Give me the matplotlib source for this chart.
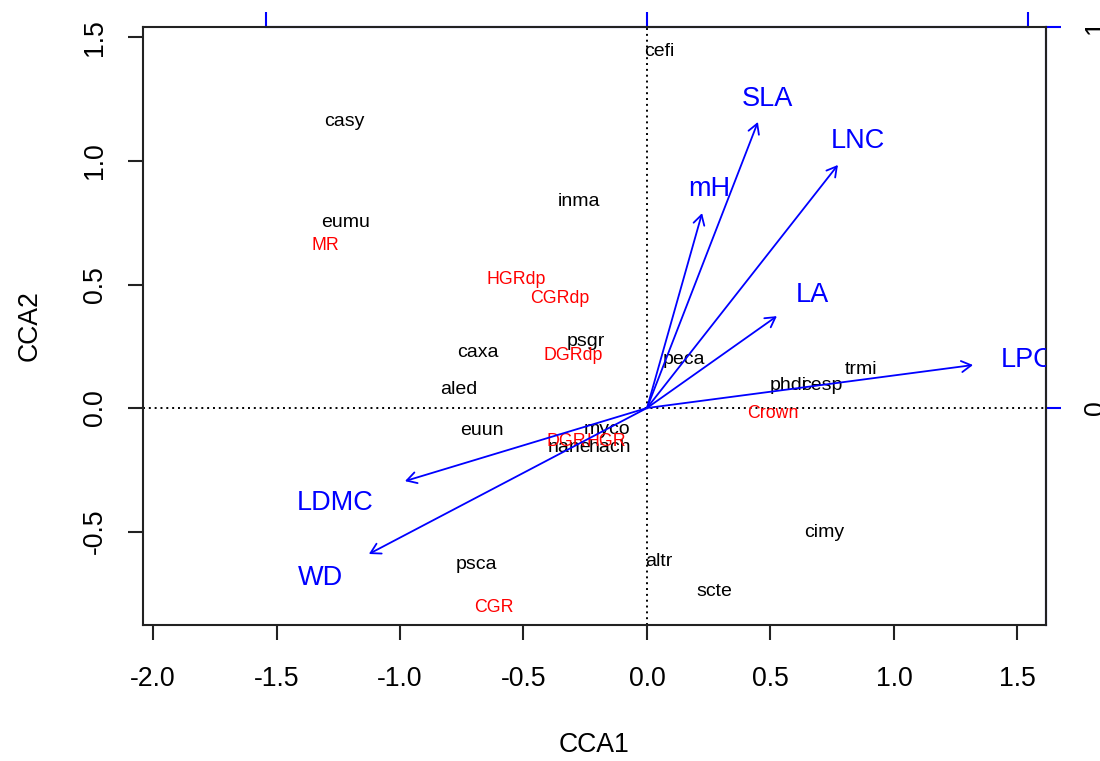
import matplotlib
matplotlib.use("Agg")
import matplotlib.pyplot as plt
from matplotlib.patches import FancyArrowPatch

plt.rcParams['font.family'] = ['Liberation Sans', 'DejaVu Sans']

# ---- data ----
species = ["cefi", "casy", "eumu", "inma", "psgr", "caxa", "peca", "aled", "trmi",
           "phdi", "cesp", "euun", "myco", "nane", "hach", "cimy", "psca", "altr", "scte"]
species_x = [0.049, -1.227, -1.219, -0.275, -0.247, -0.684, 0.150, -0.761, 0.866,
             0.571, 0.709, -0.668, -0.162, -0.312, -0.150, 0.717, -0.692, 0.049, 0.271]
species_y = [1.445, 1.158, 0.753, 0.838, 0.271, 0.223, 0.198, 0.073, 0.154,
             0.093, 0.093, -0.093, -0.085, -0.158, -0.158, -0.502, -0.632, -0.623, -0.741]

sites = ["MR", "HGRdp", "CGRdp", "DGRdp", "Crown", "DGR", "HGR", "CGR"]
sites_x = [-1.304, -0.530, -0.352, -0.300, 0.510, -0.328, -0.166, -0.619]
sites_y = [0.656, 0.522, 0.445, 0.211, -0.024, -0.134, -0.134, -0.806]

traits = ["SLA", "LNC", "mH", "LA", "LPC", "LDMC", "WD"]
trait_x = [0.449, 0.773, 0.223, 0.526, 1.320, -0.980, -1.126]
trait_y = [1.158, 0.984, 0.789, 0.372, 0.174, -0.296, -0.591]
trait_label_x = [0.486, 0.854, 0.251, 0.668, 1.538, -1.263, -1.324]
trait_label_y = [1.251, 1.081, 0.887, 0.457, 0.194, -0.385, -0.688]

arrow_mul = 1.5425          # scale of the biplot axis (top / right)
x_ticks = [-2.0, -1.5, -1.0, -0.5, 0.0, 0.5, 1.0, 1.5]
y_ticks = [-0.5, 0.0, 0.5, 1.0, 1.5]
bp_ticks = [-1, 0, 1]

# ---- figure ----
W, H = 1100, 761
fig = plt.figure(figsize=(W / 100, H / 100), dpi=100)
L, R, T, B = 143, 1045.5, 27, 625
ax = fig.add_axes([L / W, 1 - B / H, (R - L) / W, (B - T) / H])
ax.set_xlim(-2.0405, 1.6134)
ax.set_ylim(-0.8785, 1.5425)

for s in ax.spines.values():
    s.set_linewidth(1.5)
    s.set_color('#222222')

tick_kw = dict(direction='out', length=10.8, width=1.5, labelsize=19.2, color='#222222')
ax.set_xticks(x_ticks)
ax.set_xticklabels([f"{v:.1f}" for v in x_ticks])
ax.set_yticks(y_ticks)
ax.set_yticklabels([f"{v:.1f}" for v in y_ticks], rotation=90, va='center')
ax.tick_params(axis='x', pad=18.5, **tick_kw)
ax.tick_params(axis='y', pad=14.5, **tick_kw)

ax.set_xlabel("CCA1", fontsize=19.2)
ax.xaxis.set_label_coords(0.5, (B - 745) / (B - T))
ax.xaxis.label.set_va('center')
ax.set_ylabel("CCA2", fontsize=19.2)
ax.yaxis.set_label_coords((30 - L) / (R - L), 0.5)
ax.yaxis.label.set_va('center')

# dotted zero lines
ax.axhline(0, color='black', ls=(0, (1, 2)), lw=1.4, zorder=1)
ax.axvline(0, color='black', ls=(0, (1, 2)), lw=1.4, zorder=1)

# species (black) and sites (red) labels
for name, x, y in zip(species, species_x, species_y):
    ax.text(x, y, name, fontsize=14, color='black', ha='center', va='center',
            clip_on=True, zorder=3)
for name, x, y in zip(sites, sites_x, sites_y):
    ax.text(x, y, name, fontsize=12.8, color='red', ha='center', va='center',
            clip_on=True, zorder=3)

# biplot arrows
for name, x, y, lx, ly in zip(traits, trait_x, trait_y, trait_label_x, trait_label_y):
    arr = FancyArrowPatch((0, 0), (x, y), arrowstyle='->,head_length=0.7,head_width=0.4',
                          mutation_scale=10, color='blue', lw=1.3,
                          shrinkA=0, shrinkB=0, zorder=4)
    ax.add_patch(arr)
    ax.text(lx, ly, name, fontsize=19.5, color='blue', ha='center', va='center',
            clip_on=True, zorder=4)

# secondary (biplot) axes in blue
secx = ax.secondary_xaxis('top', functions=(lambda v: v / arrow_mul, lambda v: v * arrow_mul))
secx.set_xticks(bp_ticks)
secx.spines['top'].set_color('blue')
secx.spines['top'].set_linewidth(1.5)
secx.spines['top'].set_bounds(-1, 1)
# the top tick labels fall outside the picture in the reference
secx.tick_params(axis='x', direction='out', length=10.8, width=1.5, color='blue',
                 labeltop=False)

secy = ax.secondary_yaxis('right', functions=(lambda v: v / arrow_mul, lambda v: v * arrow_mul))
secy.set_yticks([0, 1])
secy.set_yticklabels(["0", "1"], rotation=90, va='center')
secy.spines['right'].set_color('blue')
secy.spines['right'].set_linewidth(1.5)
secy.spines['right'].set_bounds(-0.8785 / arrow_mul, 1)
secy.tick_params(axis='y', direction='out', length=10.8, width=1.5, color='blue',
                 labelcolor='black', labelsize=19.2, pad=16.5)

fig.savefig("out.png", dpi=100)
